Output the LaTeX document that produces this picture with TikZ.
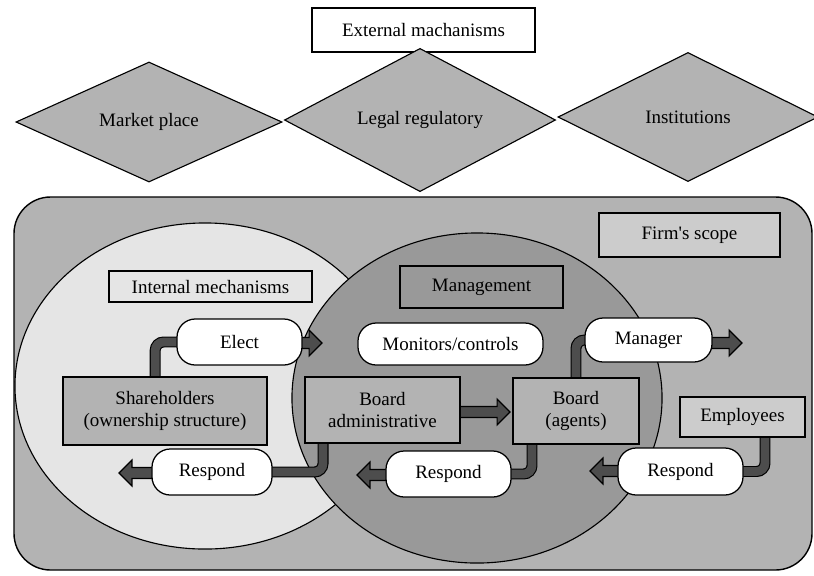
\documentclass[tikz,border=0pt]{standalone}
\usepackage{fontspec}
\setmainfont{Liberation Serif}
\usepackage{tikz}
\usetikzlibrary{
    positioning,
    shapes.geometric,
    shapes.arrows,
    calc
}
\definecolor{firmGray}{RGB}{179, 179, 179}
\definecolor{innerGray}{RGB}{229, 229, 229}
\definecolor{mgmtGray}{RGB}{153, 153, 153}
\definecolor{labelGray}{RGB}{204, 204, 204}
\definecolor{arrowGray}{RGB}{77, 77, 77}

\pgfdeclarelayer{bg}
\pgfdeclarelayer{mid}
\pgfsetlayers{bg,mid,main}

\begin{document}
\begin{tikzpicture}[x=0.025cm, y=-0.025cm,
        font=\fontsize{13.5}{15.5}\selectfont,
        box/.style={draw, line width=0.9pt, inner sep=0pt, align=center},
        pill/.style={draw, fill=white, line width=0.9pt, inner sep=0pt, rounded corners=13pt},
        mech/.style={diamond, draw, fill=firmGray, line width=0.8pt, inner sep=0pt},
        fatline/.style={draw=black, line width=7.8pt, rounded corners=6pt,
            postaction={draw=arrowGray, line width=6.2pt}},
        fatarrow/.style={single arrow, draw=black, fill=arrowGray, line width=0.8pt,
            inner sep=3.5pt, outer sep=0pt, single arrow head extend=5.3pt,
            single arrow tip angle=90, anchor=tip}]
    \useasboundingbox (0,0) rectangle (814,575);

    % external mechanisms
    \node[box, fill=white, minimum width=5.575cm, minimum height=1.1cm] (ext) at (423.5,30) {External machanisms};
    \node[mech, minimum width=6.65cm, minimum height=3cm] (market) at (149,122) {Market place};
    \node[mech, minimum width=6.775cm, minimum height=3.25cm] (legal) at (420,120) {Legal regulatory};
    \node[mech, minimum width=6.5cm, minimum height=3.225cm] (inst) at (688,117) {Institutions};

    % firm and the two circles
    \begin{pgfonlayer}{bg}
        \draw[fill=firmGray, line width=1pt, rounded corners=26pt] (14,197) rectangle (812,570);
        \draw[fill=innerGray, line width=0.8pt] (205,386) ellipse [x radius=4.75cm, y radius=4.075cm];
        \draw[fill=mgmtGray, line width=0.8pt] (477,398) ellipse [x radius=4.625cm, y radius=4.125cm];
    \end{pgfonlayer}

    % labels
    \node[box, fill=labelGray, minimum width=4.525cm, minimum height=1.1cm] (scope) at (689.5,235) {Firm\textquotesingle s scope};
    \node[box, fill=innerGray, minimum width=5.075cm, minimum height=0.775cm] (internal) at (210.5,286.5) {Internal mechanisms};
    \node[box, fill=mgmtGray, minimum width=4.075cm, minimum height=1.05cm] (mgmt) at (481.5,287) {Management};

    % actors
    \node[box, fill=firmGray, minimum width=5.1cm, minimum height=1.7cm] (share) at (165,411) {Shareholders\\(ownership structure)};
    \node[box, fill=firmGray, minimum width=3.875cm, minimum height=1.65cm] (admin) at (382.5,410) {Board\\administrative};
    \node[box, fill=firmGray, minimum width=3.15cm, minimum height=1.65cm] (agents) at (576,411) {Board\\(agents)};
    \node[box, fill=labelGray, minimum width=3.125cm, minimum height=1cm] (emp) at (742.5,417) {Employees};

    % actions
    \node[pill, minimum width=3.125cm, minimum height=1.15cm] (elect) at (239.5,342) {Elect};
    \node[pill, minimum width=4.625cm, minimum height=1.05cm] (monitor) at (450.5,344) {Monitors/controls};
    \node[pill, minimum width=3.175cm, minimum height=1.1cm] (manager) at (648.5,340) {Manager};
    \node[pill, minimum width=3cm, minimum height=1.15cm] (resp1) at (212,472) {Respond};
    \node[pill, minimum width=3.125cm, minimum height=1.15cm] (resp2) at (448.5,474) {Respond};
    \node[pill, minimum width=3.125cm, minimum height=1.175cm] (resp3) at (680.5,471.5) {Respond};

    \coordinate (electTip) at (322,343);
    \coordinate (managerTip) at (742,343);
    \coordinate (agentsTip) at (510,412);
    \coordinate (resp1Tip) at (119,473);
    \coordinate (resp2Tip) at (357,475);
    \coordinate (resp3Tip) at (590,471);

    % fat connectors
    \begin{pgfonlayer}{mid}
        \draw[fatline] ([xshift=-7pt]share.north) |- ([xshift=10pt]elect.west);
        \draw[fatline] (agents.north) |- ([xshift=10pt]manager.west);
        \draw[fatline] ([xshift=-42.3pt]admin.south) |- ([xshift=-10pt]resp1.east);
        \draw[fatline] ([xshift=-31.3pt]agents.south) |- ([xshift=-10pt]resp2.east);
        \draw[fatline] ([xshift=16pt]emp.south) |- ([xshift=-10pt]resp3.east);

        \node[fatarrow, minimum height=28pt] (electArrow) at (electTip) {};
        \node[fatarrow, minimum height=28pt] (managerArrow) at (managerTip) {};
        \node[fatarrow, minimum height=42pt] (boardArrow) at (agentsTip) {};
        \node[fatarrow, minimum height=32pt, shape border rotate=180] (resp1Arrow) at (resp1Tip) {};
        \node[fatarrow, minimum height=32pt, shape border rotate=180] (resp2Arrow) at (resp2Tip) {};
        \node[fatarrow, minimum height=32pt, shape border rotate=180] (resp3Arrow) at (resp3Tip) {};
    \end{pgfonlayer}
\end{tikzpicture}
\end{document}
